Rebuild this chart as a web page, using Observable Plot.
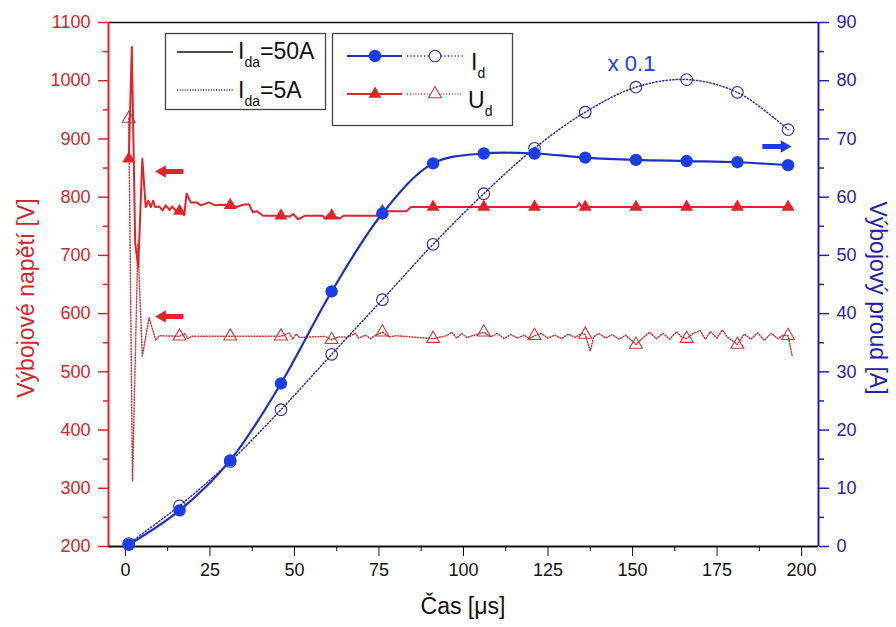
<!DOCTYPE html>
<html><head><meta charset="utf-8">
<script src="https://cdn.jsdelivr.net/npm/d3@7"></script>
<script src="https://cdn.jsdelivr.net/npm/@observablehq/plot@0.6"></script>
<style>body{margin:0;background:#fff;}#chart{width:896px;height:627px;}</style>
</head><body><div id="chart"></div>
<script>
// ---------- data ----------
const markerTimes = [1,16,31,46,61,76,91,106,121,136,151,166,181,196];
const id50 = [0.3,6.2,14.8,28.0,43.8,57.2,65.8,67.5,67.5,66.8,66.4,66.2,66.0,65.5];   // A
const id5x10 = [0.5,7.0,14.6,23.5,33.0,42.4,51.9,60.6,68.4,74.6,78.9,80.2,78.0,71.6]; // A (x 0.1)
const ud50Markers = [866,776,786,768,768,776,783,783,783,783,783,783,783,783];          // V
const ud5Markers = [935,561,561,561,555,568,557,568,562,564,547,557,547,562];           // V

const ud50Time = [1,1.9,2.9,3.8,5.0,6.0,6.8,7.5,8.2,8.8,10.0,11.0,11.9,13.1,13.9,15.2,16,17.4,18.1,19.3,21.1,22.3,24.7,26.6,28.3,31,32.9,34.7,36.5,37.7,38.9,40.7,46,48.7,49.6,51.1,53,58.4,59,60.3,61.5,63.3,64.5,74.8,76.3,83.2,84.4,133.5,134.2,135,197];
const ud50Volt = [866,1058,720,680,866,783,794,783,794,783,784,777,786,778,784,774,776,769,806,791,791,786,791,786,787,786,783,787,788,774,776,768,768,767,771,762,768,768,763,771,768,763,768,768,776,776,783,783,790,783,783];

const ud5Time = [1,2.1,3.7,5.0,7.0,9.0,10,16,17.5,18.5,19.5,31,46,48.5,49.5,50.5,51.5,59,61,63,66,68,69,71,72.5,74,76,78,80,91,95,96.5,98,99.5,101,106,108,110,112,114,116,118,119.5,121,123,125,127,129,131,133,135,136,137.5,138.5,140,142,144,146,148,149.5,151,153,155,157,159,161,163,164.5,166,168,170,171.5,173,175,176.5,178,181,183,185,187,189,191,193,194.5,196,197.2];
const ud5Volt = [935,313,720,527,593,554,562,561,566,557,561,561,561,567,556,565,559,561,555,560,560,566,558,563,557,563,568,560,562,557,562,568,558,566,559,568,560,566,557,564,558,563,557,562,566,558,563,557,565,559,566,564,536,560,566,558,564,556,563,555,547,558,568,557,566,556,569,560,557,566,571,556,569,558,572,560,547,565,556,567,554,566,557,563,562,528];

const xTicks = [0,25,50,75,100,125,150,175,200];
const xMinor = [12.5,37.5,62.5,87.5,112.5,137.5,162.5,187.5];
const vTicks = [200,300,400,500,600,700,800,900,1000,1100];
const vMinor = [250,350,450,550,650,750,850,950,1050];
const aTicks = [0,10,20,30,40,50,60,70,80,90];
const aMinor = [5,15,25,35,45,55,65,75,85];

// annotation arrows (x from -> x to, y in axis units)
const redArrowFrom = [17.2, 17.2], redArrowTo = [11.4, 11.4], redArrowHead = [10.9, 10.9], redArrowV = [844, 595];
const blueArrowFrom = [188.4], blueArrowTo = [194.2], blueArrowHead = [194.9], blueArrowA = [68.7];
const noteText = ["x 0.1"], noteX = [149.7], noteA = [82.9];

// ---------- style ----------
const FONT = "'Liberation Sans', Arial, sans-serif";
const RED = "#e3232a", RED_TXT = "#d1262b", RED_DOT = "#c23a3a";
const BLUE_LINE = "#1b2fc2", BLUE_MARK = "#1a3de6", NAVY = "#2b2b98", BLUE_AX = "#1f22aa";

// right axis (A) mapped to left axis units (V)
const A2V = d3.scaleLinear([0, 90], [200, 1100]);

const X0 = -5, X1 = 205;
const pts = (t, v) => t.map((d, i) => ({t: d, v: v[i]}));
const ud50 = pts(ud50Time, ud50Volt), ud5 = pts(ud5Time, ud5Volt);
const ud50M = pts(markerTimes, ud50Markers), ud5M = pts(markerTimes, ud5Markers);
const id50P = pts(markerTimes, id50.map(A2V)), id5P = pts(markerTimes, id5x10.map(A2V));

const plot = Plot.plot({
  width: 896, height: 627,
  marginLeft: 108, marginRight: 78, marginTop: 22, marginBottom: 81,
  x: {domain: [X0, X1]},
  y: {domain: [200, 1100]},
  style: {fontFamily: FONT, fontSize: "18px", background: "white", overflow: "visible"},
  marks: [
    // axes
    Plot.axisX(xTicks, {tickSize: 10, tickPadding: 7, label: null, color: "#111", tickFormat: d => String(d)}),
    Plot.axisX(xMinor, {tickSize: 5, tickFormat: () => "", label: null, color: "#111"}),
    Plot.axisY(vTicks, {anchor: "left", tickSize: 10, tickPadding: 8, label: null, color: RED_TXT, strokeWidth: 1.5, tickFormat: d => String(d)}),
    Plot.axisY(vMinor, {anchor: "left", tickSize: 5, tickFormat: () => "", label: null, color: RED, strokeWidth: 1.5}),
    Plot.axisY(aTicks.map(A2V), {anchor: "right", tickSize: 10, tickPadding: 8, label: null, color: BLUE_AX, strokeWidth: 1.5,
      tickFormat: d => String(Math.round(A2V.invert(d)))}),
    Plot.axisY(aMinor.map(A2V), {anchor: "right", tickSize: 5, tickFormat: () => "", label: null, color: BLUE_AX, strokeWidth: 1.5}),
    // frame lines
    Plot.ruleY([1100], {stroke: "#111", strokeWidth: 1.6}),
    Plot.ruleY([200], {stroke: "#111", strokeWidth: 2}),
    Plot.ruleX([X0], {stroke: RED, strokeWidth: 2}),
    Plot.ruleX([X1], {stroke: BLUE_AX, strokeWidth: 2}),
    // voltage series
    Plot.line(ud5, {x: "t", y: "v", stroke: RED_DOT, strokeWidth: 1.5, strokeDasharray: "1,1.8"}),
    Plot.dot(ud5M, {x: "t", y: "v", symbol: "triangle", r: 4.8, stroke: RED_DOT, strokeWidth: 1.1, fill: "none"}),
    Plot.line(ud50, {x: "t", y: "v", stroke: RED, strokeWidth: 2}),
    Plot.dot(ud50M, {x: "t", y: "v", symbol: "triangle", r: 4.8, fill: RED, stroke: "none"}),
    // current series
    Plot.line(id5P, {x: "t", y: "v", curve: "catmull-rom", stroke: NAVY, strokeWidth: 1.5, strokeDasharray: "1.2,2.2"}),
    Plot.dot(id5P, {x: "t", y: "v", r: 5.8, stroke: NAVY, strokeWidth: 1.1, fill: "none"}),
    Plot.line(id50P, {x: "t", y: "v", curve: "catmull-rom", stroke: BLUE_LINE, strokeWidth: 2.2}),
    Plot.dot(id50P, {x: "t", y: "v", r: 6.2, fill: BLUE_MARK, stroke: "none"}),
    // arrows
    Plot.link(redArrowV.map((v, i) => ({x1: redArrowFrom[i], x2: redArrowTo[i], y: v})), {x1: "x1", x2: "x2", y1: "y", y2: "y", stroke: RED, strokeWidth: 5}),
    Plot.dot(redArrowV.map((v, i) => ({x: redArrowHead[i], y: v})), {x: "x", y: "y", symbol: "triangle", r: 4.6, rotate: -90, fill: RED}),
    Plot.link(blueArrowA.map((a, i) => ({x1: blueArrowFrom[i], x2: blueArrowTo[i], y: A2V(a)})), {x1: "x1", x2: "x2", y1: "y", y2: "y", stroke: BLUE_MARK, strokeWidth: 5}),
    Plot.dot(blueArrowA.map((a, i) => ({x: blueArrowHead[i], y: A2V(a)})), {x: "x", y: "y", symbol: "triangle", r: 4.6, rotate: 90, fill: BLUE_MARK}),
    // note
    Plot.text(noteText.map((s, i) => ({s, x: noteX[i], y: A2V(noteA[i])})), {x: "x", y: "y", text: "s", fill: BLUE_MARK, fontSize: 22})
  ]
});
document.getElementById("chart").appendChild(plot);

// ---------- titles & legend ----------
const svg = d3.select(plot);
svg.append("text").attr("transform", "translate(26,298) rotate(-90)")
  .attr("text-anchor", "middle").attr("dominant-baseline", "central")
  .attr("font-family", FONT).attr("font-size", 23).attr("fill", RED_TXT).text("Výbojové napětí [V]");
svg.append("text").attr("transform", "translate(878,298) rotate(90)")
  .attr("text-anchor", "middle").attr("dominant-baseline", "central")
  .attr("font-family", FONT).attr("font-size", 23).attr("fill", BLUE_AX).text("Výbojový proud [A]");
svg.append("text").attr("x", 463).attr("y", 606)
  .attr("text-anchor", "middle").attr("dominant-baseline", "central")
  .attr("font-family", FONT).attr("font-size", 23).attr("fill", "#111").text("Čas [μs]");

const L = svg.append("g").attr("font-family", FONT).attr("text-anchor", "start");
function box(x, y, w, h) {
  L.append("rect").attr("x", x).attr("y", y).attr("width", w).attr("height", h)
    .attr("fill", "white").attr("stroke", "#444").attr("stroke-width", 1.3);
}
function seg(x1, x2, y, color, width, dash) {
  const l = L.append("line").attr("x1", x1).attr("x2", x2).attr("y1", y).attr("y2", y)
    .attr("stroke", color).attr("stroke-width", width);
  if (dash) l.attr("stroke-dasharray", dash);
}
function sym(type, x, y, r, fill, stroke) {
  L.append("path").attr("d", d3.symbol(type, Math.PI * r * r)())
    .attr("transform", `translate(${x},${y})`)
    .attr("fill", fill).attr("stroke", stroke || "none").attr("stroke-width", 1.1);
}
function label(x, y, main, sub, rest) {
  const t = L.append("text").attr("x", x).attr("y", y).attr("fill", "#111")
    .attr("font-size", 23).attr("text-anchor", "start");
  t.append("tspan").text(main);
  t.append("tspan").attr("font-size", 14).attr("dy", 8).text(sub);
  if (rest) t.append("tspan").attr("dy", -8).text(rest);
}
box(165.5, 33.5, 160, 76);
seg(177, 233, 52, "#111", 1.6);
label(238, 59, "I", "da", "=50A");
seg(177, 233, 90, "#111", 1.4, "1,1.6");
label(238, 98, "I", "da", "=5A");

box(332.5, 33.5, 180, 92);
seg(347, 402, 56, BLUE_LINE, 2);
sym(d3.symbolCircle, 375, 56, 6.2, BLUE_MARK);
seg(407, 463, 56, NAVY, 1.5, "1.2,2.2");
sym(d3.symbolCircle, 435, 56, 5.8, "white", NAVY);
label(471, 70, "I", "d");
seg(347, 402, 94, RED, 2);
sym(d3.symbolTriangle, 375, 94, 4.8, RED);
seg(407, 463, 94, RED_DOT, 1.5, "1,1.8");
sym(d3.symbolTriangle, 435, 94, 4.8, "white", RED_DOT);
label(468, 108, "U", "d");
</script>
</body></html>
